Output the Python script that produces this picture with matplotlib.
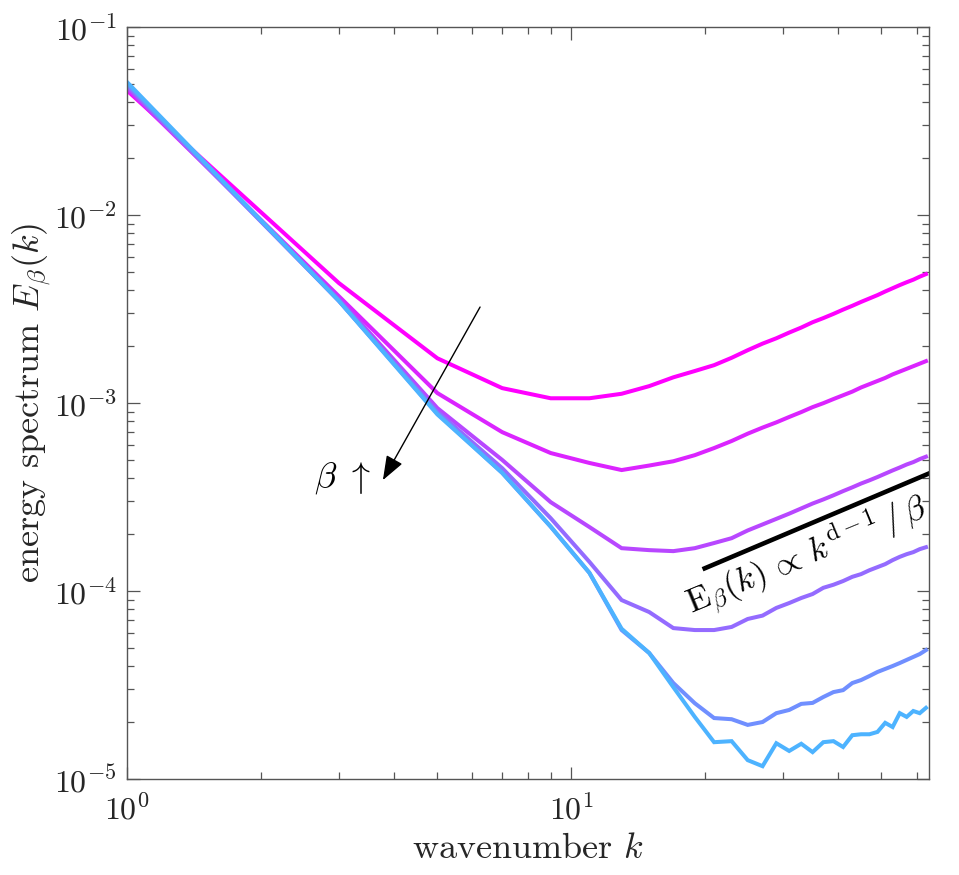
import matplotlib
matplotlib.use("Agg")
import matplotlib.pyplot as plt
import numpy as np

plt.rcParams['font.family'] = 'serif'
plt.rcParams['font.serif'] = ['cmr10']
plt.rcParams['mathtext.fontset'] = 'cm'
plt.rcParams['axes.formatter.use_mathtext'] = True
plt.rcParams['axes.unicode_minus'] = True

# wavenumbers (odd shells)
k = [1, 3, 5, 7, 9, 11, 13, 15, 17, 19, 21, 23, 25, 27, 29, 31,
     33, 35, 37, 39, 41, 43, 45, 47, 49, 51, 53, 55, 57, 59, 61, 63]

E1 = [4.6e-2, 4.35e-3, 1.73e-3, 1.20e-3, 1.06e-3, 1.06e-3, 1.12e-3, 1.23e-3,
      1.37e-3, 1.48e-3, 1.59e-3, 1.74e-3, 1.91e-3, 2.07e-3, 2.21e-3, 2.37e-3,
      2.52e-3, 2.69e-3, 2.83e-3, 2.98e-3, 3.14e-3, 3.29e-3, 3.45e-3, 3.60e-3,
      3.75e-3, 3.92e-3, 4.08e-3, 4.24e-3, 4.39e-3, 4.53e-3, 4.70e-3, 4.85e-3]
E2 = [4.7e-2, 3.7e-3, 1.13e-3, 7.0e-4, 5.42e-4, 4.8e-4, 4.4e-4, 4.65e-4,
      4.9e-4, 5.28e-4, 5.76e-4, 6.28e-4, 6.87e-4, 7.40e-4, 7.89e-4, 8.43e-4,
      8.95e-4, 9.51e-4, 9.98e-4, 1.05e-3, 1.10e-3, 1.15e-3, 1.21e-3, 1.26e-3,
      1.31e-3, 1.36e-3, 1.42e-3, 1.47e-3, 1.52e-3, 1.57e-3, 1.62e-3, 1.67e-3]
E3 = [4.8e-2, 3.6e-3, 9.4e-4, 4.98e-4, 2.97e-4, 2.19e-4, 1.69e-4, 1.65e-4,
      1.63e-4, 1.69e-4, 1.80e-4, 1.91e-4, 2.10e-4, 2.26e-4, 2.42e-4, 2.58e-4,
      2.75e-4, 2.92e-4, 3.07e-4, 3.23e-4, 3.40e-4, 3.56e-4, 3.73e-4, 3.88e-4,
      4.04e-4, 4.21e-4, 4.38e-4, 4.54e-4, 4.71e-4, 4.85e-4, 5.03e-4, 5.18e-4]
E4 = [4.9e-2, 3.5e-3, 9.0e-4, 4.5e-4, 2.44e-4, 1.43e-4, 8.95e-5, 7.73e-5,
      6.35e-5, 6.2e-5, 6.2e-5, 6.44e-5, 7.1e-5, 7.4e-5, 8.13e-5, 8.63e-5,
      9.18e-5, 9.64e-5, 1.04e-4, 1.08e-4, 1.13e-4, 1.19e-4, 1.23e-4, 1.29e-4,
      1.34e-4, 1.39e-4, 1.46e-4, 1.52e-4, 1.57e-4, 1.61e-4, 1.67e-4, 1.71e-4]
E5 = [5.0e-2, 3.5e-3, 8.8e-4, 4.25e-4, 2.2e-4, 1.25e-4, 6.2e-5, 4.68e-5,
      3.24e-5, 2.53e-5, 2.11e-5, 2.08e-5, 1.94e-5, 2.01e-5, 2.24e-5, 2.33e-5,
      2.51e-5, 2.54e-5, 2.73e-5, 2.90e-5, 2.97e-5, 3.24e-5, 3.36e-5, 3.53e-5,
      3.71e-5, 3.85e-5, 3.99e-5, 4.14e-5, 4.30e-5, 4.46e-5, 4.62e-5, 4.85e-5]
E6 = [5.1e-2, 3.5e-3, 8.7e-4, 4.25e-4, 2.2e-4, 1.25e-4, 6.3e-5, 4.68e-5,
      3.08e-5, 2.14e-5, 1.57e-5, 1.59e-5, 1.26e-5, 1.17e-5, 1.55e-5, 1.41e-5,
      1.54e-5, 1.39e-5, 1.57e-5, 1.59e-5, 1.48e-5, 1.71e-5, 1.73e-5, 1.73e-5,
      1.78e-5, 1.99e-5, 1.89e-5, 2.24e-5, 2.14e-5, 2.30e-5, 2.24e-5, 2.39e-5]

series = [E1, E2, E3, E4, E5, E6]
colors = ['#FF00FF', '#DB24FF', '#B847FF', '#946BFF', '#708FFF', '#4DB3FF']

# reference slope line E ∝ k^(d-1)
ref_k = [20, 64]
ref_E = [1.32e-4, 4.22e-4]

fig = plt.figure(figsize=(9.59, 8.75), dpi=100)
ax = fig.add_axes([0.1324, 0.1097, 0.8363, 0.8594])

for E, c in zip(series, colors):
    ax.plot(k, E, color=c, lw=2.9, solid_joinstyle='miter')

ax.plot(ref_k, ref_E, color='black', lw=3.3)

ax.set_xscale('log')
ax.set_yscale('log')
ax.set_xlim(1, 64)
ax.set_ylim(1e-5, 1e-1)

axcol = '#262626'
for s in ax.spines.values():
    s.set_color('#555555')
    s.set_linewidth(1.0)
ax.tick_params(which='both', direction='in', top=True, right=True,
               colors='#555555', labelcolor=axcol, labelsize=23)
ax.tick_params(which='major', length=9, width=0.9)
ax.tick_params(which='minor', length=5, width=0.9)
ax.tick_params(axis='x', which='major', pad=10)
ax.tick_params(axis='y', which='major', pad=7)

ax.set_xlabel(r'wavenumber $k$', fontsize=26, color=axcol, labelpad=6)
ax.set_ylabel(r'energy spectrum $E_\beta(k)$', fontsize=26, color=axcol, labelpad=1)

ax.annotate('', xy=(3.77, 3.89e-4), xytext=(6.24, 3.24e-3),
            arrowprops=dict(arrowstyle='-|>,head_length=0.75,head_width=0.28',
                            color='black', lw=1.0,
                            mutation_scale=20, shrinkA=0, shrinkB=0))
ax.text(3.05, 4.0e-4, r'$\beta\ \uparrow$', fontsize=26, ha='center', va='center')

ax.text(34.0, 1.52e-4, r'$\mathrm{E}_{\beta}(k)\,\propto\,k^{\mathrm{d}-1}\,/\,\beta$',
        fontsize=24.5, rotation=22.5, ha='center', va='center',
        rotation_mode='anchor')

fig.savefig('out.png', dpi=100)
